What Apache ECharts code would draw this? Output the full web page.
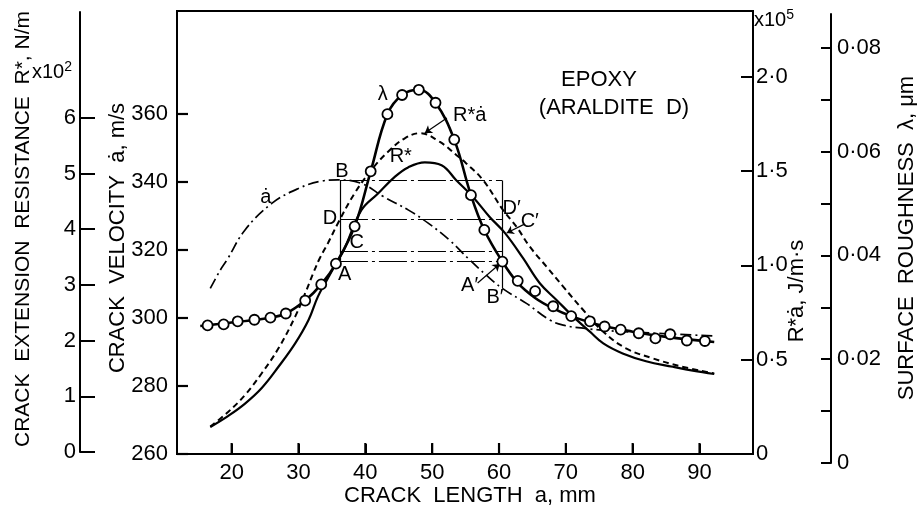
<!DOCTYPE html>
<html><head><meta charset="utf-8">
<script src="https://cdn.jsdelivr.net/npm/echarts@6/dist/echarts.min.js"></script>
<style>html,body{margin:0;padding:0;background:#fff}#c{width:917px;height:514px}</style>
</head><body><div id="c"></div>
<script>
// ---- data (crack length a in mm) ----
const xTicks = [20, 30, 40, 50, 60, 70, 80, 90];
const velocityTicks = [260, 280, 300, 320, 340, 360];
const rStarTicks = [0, 1, 2, 3, 4, 5, 6];
const rStarDotTicks = [0, 0.5, 1.0, 1.5, 2.0];
const roughTicks = [0, 0.01, 0.02, 0.03, 0.04, 0.05, 0.06, 0.07, 0.08];
const roughLabels = [0, 0.02, 0.04, 0.06, 0.08];

// crack velocity a-dot (m/s)
const velocity = [[16.8,308.7],[18.3,314.1],[19.3,317.1],[22.0,325.9],[26.0,333.7],[30.0,338.1],[33.5,340.3],[35.9,340.6],[39.4,339.6],[42.7,335.7],[46.4,331.8],[49.4,327.9],[52.6,322.9],[55.6,317.1],[58.1,312.6],[60.5,308.7],[64.1,304.3],[67.6,299.4],[69.6,297.9],[72.6,297.0],[76.1,296.3],[82.5,295.6],[92.2,294.7]];
// crack extension resistance R* (x10^2 N/m)
const rStar = [[16.8,0.45],[19.5,0.65],[22.0,0.87],[24.5,1.15],[27.0,1.53],[29.5,1.95],[31.5,2.37],[32.9,2.79],[34.4,3.12],[35.6,3.38],[36.8,3.63],[39.4,4.34],[41.9,4.64],[44.4,4.94],[46.4,5.11],[48.9,5.20],[51.4,5.15],[53.6,4.88],[56.1,4.58],[58.6,4.22],[60.9,3.93],[63.6,3.48],[66.1,3.03],[68.6,2.73],[71.1,2.43],[73.6,2.16],[75.6,1.95],[78.5,1.77],[82.0,1.63],[86.0,1.53],[89.0,1.46],[92.2,1.40]];
// R* a-dot (x10^5 J/m s)
const rStarDot = [[16.8,0.145],[19.5,0.224],[22.0,0.313],[24.5,0.428],[27.0,0.560],[29.5,0.728],[31.0,0.852],[32.2,0.958],[33.2,1.039],[34.4,1.117],[35.9,1.223],[38.4,1.382],[40.9,1.505],[43.4,1.602],[45.9,1.673],[48.2,1.700],[51.1,1.655],[53.6,1.585],[55.1,1.540],[57.6,1.452],[60.6,1.293],[62.6,1.205],[64.6,1.099],[67.1,0.993],[69.6,0.887],[72.6,0.763],[75.6,0.648],[79.0,0.560],[83.0,0.507],[87.0,0.466],[92.2,0.427]];
// surface roughness lambda (um): measured points
const roughPoints = [[16.4,0.0265],[18.8,0.0267],[20.9,0.0273],[23.4,0.0276],[25.8,0.0280],[28.1,0.0288],[31.0,0.0313],[33.4,0.0344],[35.6,0.0384],[38.4,0.0456],[40.8,0.0562],[43.3,0.0672],[45.5,0.0709],[48.0,0.0719],[50.5,0.0694],[53.3,0.0623],[55.8,0.0516],[57.8,0.0449],[60.5,0.0388],[62.8,0.0351],[65.4,0.0331],[68.1,0.0302],[70.8,0.0283],[73.6,0.0273],[75.8,0.0263],[78.2,0.0257],[80.9,0.0250],[83.4,0.0240],[85.6,0.0248],[88.1,0.0236],[90.8,0.0235]];
// surface roughness lambda: drawn curve
const roughCurve = [[15.3,0.0264],[20.9,0.0272],[25.8,0.0280],[28.1,0.0288],[31.0,0.0313],[33.4,0.0344],[35.6,0.0384],[38.4,0.0456],[40.8,0.0562],[43.3,0.0672],[45.5,0.0709],[48.0,0.0719],[50.5,0.0694],[53.3,0.0623],[55.8,0.0516],[57.8,0.0449],[60.5,0.0388],[62.8,0.0347],[65.4,0.0318],[68.1,0.0298],[70.8,0.0283],[75.0,0.0266],[80.0,0.0253],[85.0,0.0243],[92.2,0.0233]];

// construction lines (velocity units)
const rectA = [36.2, 60.5];
const levelB = 340.4, levelD = 329.0, levelC = 319.5, levelA = 316.8, levelBp = 308.7;

// annotation labels [a, velocity, text]
const notes = [[42.6,365.6,'λ'],[45.3,347.4,'R*'],[55.6,359.7,'R*ȧ'],[25.1,335.3,'ȧ'],[36.5,343.2,'B'],[34.7,329.4,'D'],[38.7,322.1,'C'],[36.9,312.9,'A'],[55.6,309.7,'A′'],[59.4,305.9,'B′'],[61.9,332.1,'D′'],[64.6,328.5,'C′']];
const leaders = [[[52.2,358.8],[48.9,354.4]],[[56.8,310.3],[60.1,315.9]],[[63.8,327.6],[61.15,325.0]]];

const FONT = 'Liberation Sans';
const X_MIN = 11.82, X_MAX = 98, V_MIN = 260, V_MAX = 390.29;
const TICK_PX = 11;
const fmt1 = v => v === 0 ? '0' : v.toFixed(1).replace('.', '·');
const fmt2 = v => v === 0 ? '0' : v.toFixed(2).replace('.', '·');

const chart = echarts.init(document.getElementById('c'), null, {renderer: 'canvas'});
const lab = {color: '#000', fontFamily: FONT, fontSize: 22};
const tickStyle = {color: '#000', width: 2};
const axLine = {show: true, lineStyle: {color: '#000', width: 2}};
const hiddenX = (gi) => ({type: 'value', gridIndex: gi, min: X_MIN, max: X_MAX, show: false});

const texts = [
  {type: 'text', x: 23, y: 229, rotation: Math.PI / 2, style: {text: 'CRACK  EXTENSION  RESISTANCE  R*, N/m', font: '21px ' + FONT, fill: '#000', align: 'center', verticalAlign: 'middle'}},
  {type: 'text', x: 118, y: 238, rotation: Math.PI / 2, style: {text: 'CRACK  VELOCITY  ȧ, m/s', font: '22px ' + FONT, fill: '#000', align: 'center', verticalAlign: 'middle'}},
  {type: 'text', x: 797, y: 291, rotation: Math.PI / 2, style: {text: 'R*ȧ, J/m·s', font: '22px ' + FONT, fill: '#000', align: 'center', verticalAlign: 'middle'}},
  {type: 'text', x: 907, y: 238, rotation: Math.PI / 2, style: {text: 'SURFACE  ROUGHNESS  λ, μm', font: '22px ' + FONT, fill: '#000', align: 'center', verticalAlign: 'middle'}},
  {type: 'text', x: 470, y: 496, style: {text: 'CRACK  LENGTH  a, mm', font: '22px ' + FONT, fill: '#000', align: 'center', verticalAlign: 'middle'}},
  {type: 'text', x: 52, y: 72, style: {text: '{b|x10}{s|2}', rich: {b: {font: '20px ' + FONT, fill: '#000'}, s: {font: '14px ' + FONT, fill: '#000', padding: [0, 0, 10, 0]}}, align: 'center', verticalAlign: 'middle'}},
  {type: 'text', x: 774, y: 20, style: {text: '{b|x10}{s|5}', rich: {b: {font: '20px ' + FONT, fill: '#000'}, s: {font: '14px ' + FONT, fill: '#000', padding: [0, 0, 10, 0]}}, align: 'center', verticalAlign: 'middle'}},
  {type: 'text', x: 599, y: 80, style: {text: 'EPOXY', font: '22px ' + FONT, fill: '#000', align: 'center', verticalAlign: 'middle'}},
  {type: 'text', x: 614, y: 108, style: {text: '(ARALDITE  D)', font: '22px ' + FONT, fill: '#000', align: 'center', verticalAlign: 'middle'}}
];

const option = {
  animation: false,
  backgroundColor: '#fff',
  grid: [
    {left: 177, right: 164, top: 11, bottom: 60, show: true, borderColor: '#000', borderWidth: 2},
    {left: 177, right: 164, top: 12, bottom: 62, show: false},
    {left: 177, right: 164, top: 14, bottom: 51, show: false}
  ],
  xAxis: [
    {type: 'value', gridIndex: 0, min: X_MIN, max: X_MAX, position: 'bottom',
     axisLine: axLine, splitLine: {show: false},
     axisTick: {show: true, inside: true, length: 10, customValues: xTicks, lineStyle: tickStyle},
     axisLabel: Object.assign({margin: 8, customValues: xTicks}, lab)},
    hiddenX(1), hiddenX(2)
  ],
  yAxis: [
    {type: 'value', gridIndex: 0, position: 'left', min: V_MIN, max: V_MAX,
     axisLine: axLine, splitLine: {show: false},
     axisTick: {show: true, inside: true, length: 10, customValues: velocityTicks, lineStyle: tickStyle},
     axisLabel: Object.assign({margin: 9, customValues: velocityTicks}, lab)},
    {type: 'value', gridIndex: 0, position: 'right', min: 0, max: 2.3476,
     axisLine: axLine, splitLine: {show: false},
     axisTick: {show: true, inside: true, length: 12, customValues: rStarDotTicks, lineStyle: tickStyle},
     axisLabel: Object.assign({margin: 3, customValues: rStarDotTicks, formatter: fmt1}, lab)},
    {type: 'value', gridIndex: 1, position: 'left', offset: 97, min: 0, max: 7.9,
     axisLine: axLine, splitLine: {show: false},
     axisTick: {show: true, inside: true, length: 15, customValues: rStarTicks, lineStyle: tickStyle},
     axisLabel: Object.assign({margin: 4, customValues: rStarTicks}, lab)},
    {type: 'value', gridIndex: 2, position: 'right', offset: 78, min: 0, max: 0.0865,
     axisLine: axLine, splitLine: {show: false},
     axisTick: {show: true, inside: true, length: 10, customValues: roughTicks, lineStyle: tickStyle},
     axisLabel: Object.assign({margin: 6, customValues: roughLabels, formatter: fmt2}, lab)}
  ],
  series: [
    {name: 'velocity', type: 'line', xAxisIndex: 0, yAxisIndex: 0, data: velocity, smooth: 0.4, symbol: 'none',
     lineStyle: {color: '#000', width: 1.7, type: [11, 4, 2, 4], opacity: 1}},
    {name: 'rStar', type: 'line', xAxisIndex: 1, yAxisIndex: 2, data: rStar, smooth: 0.4, symbol: 'none',
     lineStyle: {color: '#000', width: 2.2, opacity: 1}},
    {name: 'rStarDot', type: 'line', xAxisIndex: 0, yAxisIndex: 1, data: rStarDot, smooth: 0.4, symbol: 'none',
     lineStyle: {color: '#000', width: 2, type: [6, 4], opacity: 1}},
    {name: 'roughCurve', type: 'line', xAxisIndex: 2, yAxisIndex: 3, data: roughCurve, smooth: 0.4, symbol: 'none',
     lineStyle: {color: '#000', width: 2.6, opacity: 1}},
    {name: 'roughPoints', type: 'scatter', xAxisIndex: 2, yAxisIndex: 3, data: roughPoints, symbol: 'circle', symbolSize: 10,
     itemStyle: {color: '#fff', borderColor: '#000', borderWidth: 1.8, opacity: 1}, emphasis: {disabled: true}, z: 5},
    {name: 'construct', type: 'line', xAxisIndex: 0, yAxisIndex: 0, symbol: 'none', data: [],
     markLine: {silent: true, symbol: ['none', 'none'], label: {show: false}, emphasis: {disabled: true},
       lineStyle: {color: '#000', width: 1.2, type: [28, 4, 3, 4], opacity: 1},
       data: [
         [{coord: [rectA[0], levelB]}, {coord: [rectA[1], levelB]}],
         [{coord: [rectA[0], levelD]}, {coord: [rectA[1], levelD]}],
         [{coord: [rectA[0], levelC]}, {coord: [rectA[1], levelC]}],
         [{coord: [rectA[0], levelA]}, {coord: [rectA[1], levelA]}],
         [{coord: [rectA[0], levelB], lineStyle: {type: 'solid'}}, {coord: [rectA[0], levelA]}],
         [{coord: [rectA[1], levelB], lineStyle: {type: 'solid'}}, {coord: [rectA[1], levelBp]}]
       ]}},
    {name: 'leaders', type: 'line', xAxisIndex: 0, yAxisIndex: 0, symbol: 'none', data: [],
     markLine: {silent: true, symbol: ['none', 'arrow'], symbolSize: 7, label: {show: false}, emphasis: {disabled: true},
       lineStyle: {color: '#000', width: 1.2, type: 'solid', opacity: 1},
       data: leaders.map(l => [{coord: l[0]}, {coord: l[1]}])}},
    {name: 'notes', type: 'scatter', xAxisIndex: 0, yAxisIndex: 0, symbolSize: 0, z: 6,
     itemStyle: {opacity: 1}, emphasis: {disabled: true},
     data: notes.map(n => ({value: [n[0], n[1]], name: n[2]})),
     label: {show: true, position: 'inside', formatter: p => p.name, color: '#000', opacity: 1, fontFamily: FONT, fontSize: 20}}
  ],
  graphic: texts
};
chart.setOption(option);

// inward frame ticks placed through the axes' own scales
const finder = {xAxisIndex: 0, yAxisIndex: 0};
const tickShapes = [];
xTicks.forEach(t => {
  const p = chart.convertToPixel(finder, [t, V_MIN]);
  tickShapes.push({type: 'line', z: 100, silent: true, shape: {x1: p[0], y1: p[1], x2: p[0], y2: p[1] - TICK_PX}, style: {stroke: '#000', lineWidth: 2.2}});
});
velocityTicks.forEach(v => {
  const p = chart.convertToPixel(finder, [X_MIN, v]);
  tickShapes.push({type: 'line', z: 100, silent: true, shape: {x1: p[0], y1: p[1], x2: p[0] + TICK_PX, y2: p[1]}, style: {stroke: '#000', lineWidth: 2.2}});
});
chart.setOption({graphic: texts.concat(tickShapes)});
</script></body></html>
